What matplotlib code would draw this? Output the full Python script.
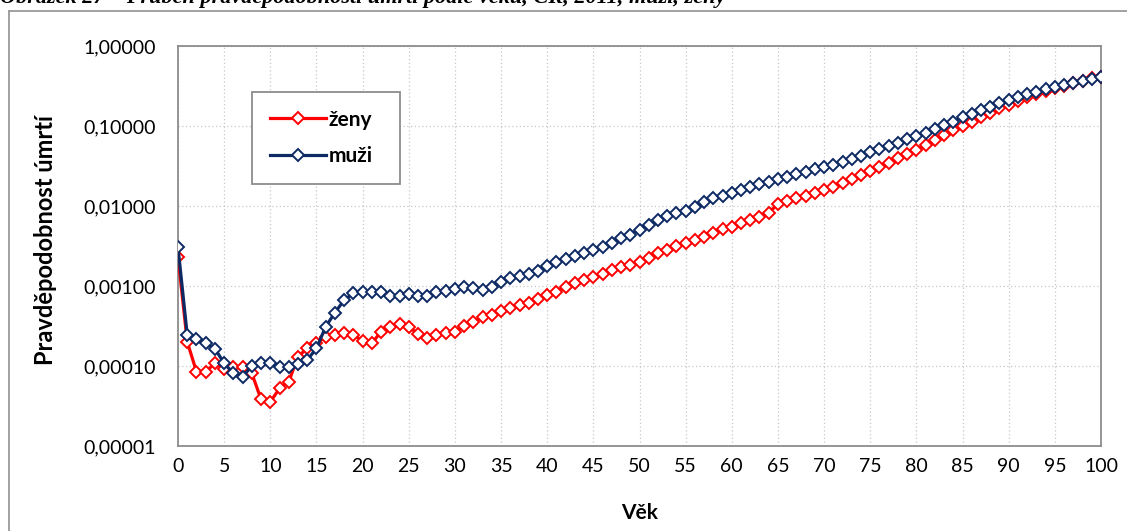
import numpy as np
import matplotlib
matplotlib.use("Agg")
import matplotlib.pyplot as plt
from matplotlib.ticker import FixedLocator, FuncFormatter, NullLocator

plt.rcParams['font.family'] = ['Lato', 'DejaVu Sans']

vek = list(range(0, 101))

muzi = [0.00305, 0.000244, 0.000215, 0.000192, 0.000165, 0.000108, 0.000081, 0.0000736, 0.0001, 0.000108,
        0.000108, 0.000098, 0.000098, 0.000106, 0.000119, 0.000166, 0.00031, 0.000464, 0.000668, 0.00081,
        0.00083, 0.00083, 0.00085, 0.00075, 0.00074, 0.00079, 0.00076, 0.00076, 0.00083, 0.00087,
        0.00093, 0.00098, 0.00094, 0.00089, 0.00098, 0.00111, 0.00125, 0.00133, 0.0014, 0.00156,
        0.00178, 0.00201, 0.00218, 0.00237, 0.00261, 0.00282, 0.0031, 0.00348, 0.0040, 0.0044,
        0.0050, 0.0058, 0.0067, 0.0074, 0.0081, 0.0087, 0.0096, 0.0113, 0.0125, 0.0133,
        0.0147, 0.0158, 0.0171, 0.0188, 0.0201, 0.0215, 0.0233, 0.0251, 0.0269, 0.0287,
        0.031, 0.0326, 0.0352, 0.0388, 0.0422, 0.047, 0.0511, 0.0562, 0.0619, 0.0681,
        0.075, 0.0825, 0.0908, 0.103, 0.113, 0.128, 0.141, 0.158, 0.174, 0.192,
        0.211, 0.228, 0.249, 0.269, 0.287, 0.31, 0.326, 0.348, 0.369, 0.383,
        0.406]

zeny = [0.00233, 0.000201, 0.000085, 0.000085, 0.000108, 0.000092, 0.000098, 0.000096, 0.000081, 0.0000383,
        0.0000355, 0.0000526, 0.0000637, 0.000131, 0.000166, 0.000192, 0.000233, 0.000244, 0.000256, 0.000244,
        0.000208, 0.000192, 0.000269, 0.00031, 0.000335, 0.00031, 0.000251, 0.000226, 0.000244, 0.000261,
        0.000269, 0.000319, 0.000358, 0.000406, 0.000434, 0.000487, 0.000526, 0.000579, 0.000619, 0.000688,
        0.000772, 0.00085, 0.00098, 0.00108, 0.00119, 0.00131, 0.00141, 0.00158, 0.00171, 0.00183,
        0.00198, 0.00225, 0.00255, 0.00282, 0.00316, 0.00341, 0.00376, 0.00414, 0.00464, 0.0051,
        0.00552, 0.00619, 0.00668, 0.00736, 0.00825, 0.0106, 0.0117, 0.0125, 0.0133, 0.0147,
        0.0158, 0.0171, 0.0192, 0.0218, 0.0243, 0.0275, 0.0304, 0.0341, 0.0394, 0.0447,
        0.0501, 0.0579, 0.0668, 0.0772, 0.0891, 0.1, 0.113, 0.128, 0.147, 0.166,
        0.183, 0.207, 0.228, 0.249, 0.274, 0.296, 0.316, 0.341, 0.369, 0.394,
        0.414]

y_ticks = [0.00001, 0.0001, 0.001, 0.01, 0.1, 1.0]
x_ticks = list(range(0, 101, 5))

W, H = 1127, 531
fig = plt.figure(figsize=(W / 100, H / 100), dpi=100)

# caption cut off by the top edge, as in the source, plus the outer chart frame
fig.text(0.0, 1 - 3 / H, "Obrázek 27 – Průběh pravděpodobnosti úmrtí podle věku, ČR, 2011, muži, ženy",
         family='Liberation Serif', fontweight='bold', style='italic', fontsize=16,
         va='baseline', ha='left')
fig.add_artist(plt.Line2D([9 / W, 1.01], [1 - 11 / H, 1 - 11 / H], color='#9a9a9a', lw=1.3))
fig.add_artist(plt.Line2D([9 / W, 9 / W], [1 - 11 / H, -0.01], color='#9a9a9a', lw=1.3))

ax = fig.add_axes([178 / W, 1 - 446 / H, (1101 - 178) / W, (446 - 46) / H])

ax.plot(vek, zeny, color='#FF0000', lw=2.3, marker='D', ms=6.5, mfc='white',
        mec='#FF0000', mew=1.4, label='ženy', zorder=3)
ax.plot(vek, muzi, color='#0E2A64', lw=2.3, marker='D', ms=6.5, mfc='white',
        mec='#0E2A64', mew=1.4, label='muži', zorder=4)

ax.set_yscale('log')
ax.set_ylim(0.00001, 1.0)
ax.set_xlim(0, 100)
ax.yaxis.set_major_locator(FixedLocator(y_ticks))
ax.yaxis.set_minor_locator(NullLocator())
ax.yaxis.set_major_formatter(FuncFormatter(lambda v, p: f"{v:.5f}".replace('.', ',')))
ax.xaxis.set_major_locator(FixedLocator(x_ticks))

ax.grid(True, which='major', color='#c8c8c8', lw=0.9, linestyle=(0, (1, 2)))
ax.set_axisbelow(True)
ax.tick_params(length=0, labelsize=14)
ax.tick_params(axis='x', pad=9)
ax.tick_params(axis='y', pad=16)

for s in ax.spines.values():
    s.set_color('#8c8c8c')
    s.set_linewidth(1.3)

ax.set_xlabel('Věk', fontsize=15, fontweight='bold', labelpad=20)
ax.set_ylabel('Pravděpodobnost úmrtí', fontsize=17, fontweight='bold')
ax.yaxis.set_label_coords(-0.131, 0.515)

leg = ax.legend(loc='upper left', bbox_to_anchor=(0.08, 0.655, 148 / 923, 0.23), mode='expand',
                frameon=True, fancybox=False,
                edgecolor='#8c8c8c', framealpha=1, labelspacing=0.8, handlelength=2.7,
                handletextpad=0.15, borderpad=0.85, borderaxespad=0,
                prop={'weight': 'bold', 'size': 15})
leg.get_frame().set_linewidth(1.3)

fig.savefig('out.png', dpi=100)
